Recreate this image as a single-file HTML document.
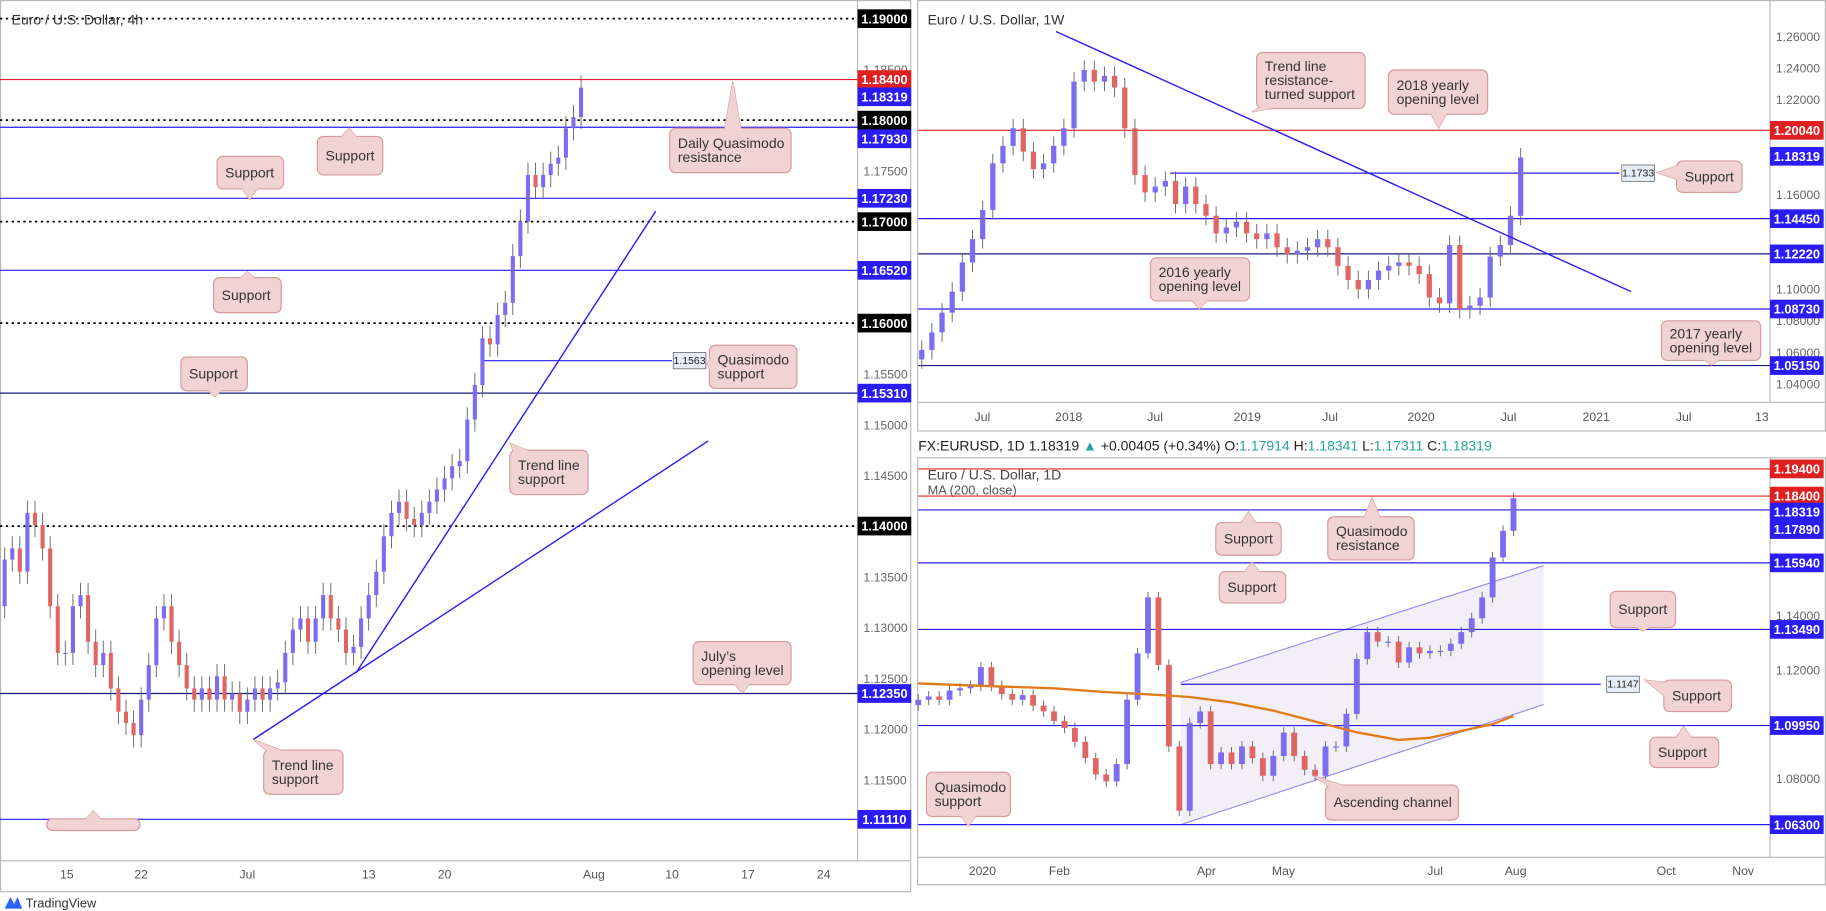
<!DOCTYPE html>
<html><head><meta charset="utf-8"><style>
html,body{margin:0;padding:0;background:#fff;overflow:hidden}
svg{display:block;font-family:"Liberation Sans",sans-serif}
</style></head><body>
<svg id="s" width="1826" height="911" viewBox="0 0 1565 781" preserveAspectRatio="none" xmlns="http://www.w3.org/2000/svg">
<rect x="0" y="0" width="1565" height="781" fill="#fff"/>
<g id="frames" fill="none" stroke="#b8b8b8" stroke-width="1">
<rect x="0.5" y="0.5" width="780" height="764"/>
<line x1="735" y1="0" x2="735" y2="738"/><line x1="0" y1="738" x2="780" y2="738"/>
<rect x="786.5" y="0.5" width="778" height="369"/>
<line x1="1517" y1="0" x2="1517" y2="345"/><line x1="787" y1="345" x2="1565" y2="345"/>
<rect x="786.5" y="392.5" width="778" height="366"/>
<line x1="1517" y1="392" x2="1517" y2="735"/><line x1="787" y1="735" x2="1565" y2="735"/>
</g>
<g id="L"></g><g id="T"></g><g id="B"></g>
<text x="10" y="21" font-size="12" fill="#333">Euro / U.S. Dollar, 4h</text>
<text x="795" y="21" font-size="12" fill="#333">Euro / U.S. Dollar, 1W</text>
<text x="787" y="386" font-size="12" fill="#222">FX:EURUSD, 1D 1.18319 <tspan fill="#26a69a">▲</tspan> +0.00405 (+0.34%) O:<tspan fill="#26a69a">1.17914</tspan> H:<tspan fill="#26a69a">1.18341</tspan> L:<tspan fill="#26a69a">1.17311</tspan> C:<tspan fill="#26a69a">1.18319</tspan></text>
<text x="795" y="411" font-size="12" fill="#444">Euro / U.S. Dollar, 1D</text>
<text x="795" y="424" font-size="11" fill="#555">MA (200, close)</text>
<g><path d="M4 779 L9 769 L12 775 L15 769 L19 779 Z" fill="#2962ff"/><text x="22" y="778" font-size="11" fill="#333">TradingView</text></g>
</svg>
<script>
// ===== Left 4h data =====
const leftCloses=[1.1298,1.1321,1.1367,1.1378,1.1355,1.1413,1.1401,1.1378,1.1321,1.1275,1.1275,1.1321,1.1332,1.1286,1.1263,1.1275,1.1240,1.1217,1.1206,1.1194,1.1229,1.1263,1.1309,1.1321,1.1286,1.1263,1.1240,1.1229,1.1240,1.1229,1.1252,1.1229,1.1235,1.1217,1.1229,1.1240,1.1229,1.1240,1.1246,1.1275,1.1298,1.1309,1.1286,1.1309,1.1332,1.1309,1.1298,1.1275,1.1281,1.1309,1.1332,1.1355,1.1390,1.1413,1.1424,1.1407,1.1401,1.1413,1.1424,1.1436,1.1447,1.1459,1.1464,1.1505,1.1539,1.1585,1.1579,1.1608,1.1620,1.1666,1.1700,1.1746,1.1734,1.1746,1.1757,1.1763,1.1792,1.1803,1.1832];
const leftTicks=["1.18500","1.17500","1.15500","1.15000","1.14500","1.13500","1.13000","1.12500","1.12000","1.11500"];
const leftTickVals=[1.185,1.175,1.155,1.15,1.145,1.135,1.13,1.125,1.12,1.115];
const leftDates=["15","22","Jul","13","20","Aug","10","17","24"];
const leftDateIdx=[10.2,20,34,50,60,79.7,90,100,110];
// ===== Weekly data =====
const wkCloses=[1.0614,1.0725,1.0850,1.0983,1.1168,1.1315,1.1500,1.1795,1.1906,1.2017,1.1869,1.1758,1.1795,1.1906,1.2017,1.2312,1.2386,1.2312,1.2349,1.2275,1.2017,1.1721,1.1611,1.1648,1.1684,1.1537,1.1648,1.1537,1.1463,1.1352,1.1389,1.1426,1.1352,1.1315,1.1352,1.1264,1.1220,1.1242,1.1264,1.1315,1.1264,1.1146,1.1057,1.0998,1.1057,1.1116,1.1146,1.1168,1.1146,1.1094,1.0946,1.0909,1.1278,1.0872,1.0894,1.0946,1.1205,1.1278,1.1463,1.1832];
const wkTicks=["1.26000","1.24000","1.22000","1.16000","1.10000","1.08000","1.06000","1.04000"];
const wkTickVals=[1.26,1.24,1.22,1.16,1.10,1.08,1.06,1.04];
const wkDates=["Jul","2018","Jul","2019","Jul","2020","Jul","2021","Jul","13"];
const wkDateX=[842,916,990,1069,1140,1218,1293,1368,1443,1510];
// ===== Daily data =====
const dCloses=[1.1090,1.1102,1.1090,1.1124,1.1132,1.1141,1.1210,1.1141,1.1111,1.1090,1.1107,1.1068,1.1047,1.1012,1.0986,1.0935,1.0875,1.0815,1.0789,1.0853,1.1090,1.1261,1.1467,1.1218,1.0918,1.0681,1.1004,1.1047,1.0853,1.0896,1.0853,1.0918,1.0875,1.0810,1.0883,1.0969,1.0883,1.0832,1.0810,1.0918,1.0918,1.1038,1.1240,1.1339,1.1304,1.1304,1.1227,1.1283,1.1261,1.1270,1.1270,1.1296,1.1339,1.1390,1.1467,1.1614,1.1712,1.1832];
const maVals=[1.1150,1.1140,1.1132,1.1118,1.1110,1.1100,1.1080,1.1050,1.1010,1.0970,1.0942,1.0950,1.0975,1.1000,1.1030];
const maIdx=[0,7,13,18,22,26,30,34,38,42,46,49,52,55,57];
const dTicks=["1.14000","1.12000","1.08000"];
const dTickVals=[1.14,1.12,1.08];
const dDates=["2020","Feb","Apr","May","Jul","Aug","Oct","Nov"];
const dDateX=[842,908,1034,1100,1230,1299,1428,1494];

const NS="http://www.w3.org/2000/svg";
function el(par,tag,at,txt){const e=document.createElementNS(NS,tag);for(const k in at)e.setAttribute(k,at[k]);if(txt!==undefined)e.textContent=txt;par.appendChild(e);return e;}
const UP="#7b6cf2",DN="#e06666",BLUE="#2a1cf5";
const yL=p=>16+(1.19-p)*8700, xL=i=>-9+6.5*i;
const yT=p=>31+(1.26-p)*1354.5, xT=i=>790+8.7*i;
const yB=p=>402+(1.194-p)*2328, xB=i=>787+8.95*i;

function candles(g,closes,xf,yf,w,wick,name){
  for(let i=0;i<closes.length;i++){
    const o=i?closes[i-1]:closes[i]-wick, c=closes[i];
    const hi=Math.max(o,c)+wick, lo=Math.min(o,c)-wick, col=c>=o?UP:DN, x=xf(i);
    const l=el(g,'line',{x1:x,x2:x,y1:yf(hi),y2:yf(lo),stroke:'#666','stroke-width':0.8});
    
    
    const top=yf(Math.max(o,c)),h=Math.max(1,yf(Math.min(o,c))-top);
    const r=el(g,'rect',{x:x-w/2,y:top,width:w,height:h,fill:col});
    
    
  }
}
function hline(g,x1,x2,y,col,dash,name){const l=el(g,'line',{x1,x2,y1:y,y2:y,stroke:col,'stroke-width':dash?1.5:1,'stroke-dasharray':dash?'2,3':'none'});
  
  }
function badge(g,x,y,txt,bg,name){const r=el(g,'rect',{x,y:y-8,width:46,height:16,fill:bg});
  
  
  el(g,'text',{x:x+23,y:y+4,'font-size':11,fill:'#fff','text-anchor':'middle','font-weight':'bold'},txt);}
function tick(g,x,y,txt){el(g,'text',{x,y:y+4,'font-size':10.5,fill:'#666'},txt);}
function callout(g,x1,y1,x2,y2,lines,px,py,name){
  const grp=el(g,'g',{});
  
  
  const cx=Math.min(Math.max(px,x1+10),x2-10), cy=Math.min(Math.max(py,y1+8),y2-8);
  let tri;
  if(py<y1) tri=`${cx-7},${y1+1} ${px},${py} ${cx+7},${y1+1}`;
  else if(py>y2) tri=`${cx-7},${y2-1} ${px},${py} ${cx+7},${y2-1}`;
  else if(px<x1) tri=`${x1+1},${cy-6} ${px},${py} ${x1+1},${cy+6}`;
  else tri=`${x2-1},${cy-6} ${px},${py} ${x2-1},${cy+6}`;
  el(grp,'polygon',{points:tri,fill:'#f2d3d3',stroke:'#d49c9c','stroke-width':1});
  el(grp,'rect',{x:x1,y:y1,width:x2-x1,height:y2-y1,rx:5,fill:'#f2d3d3',stroke:'#d49c9c','stroke-width':1});
  el(grp,'polygon',{points:tri,fill:'#f2d3d3'});
  const n=lines.length, mid=(y1+y2)/2;
  lines.forEach((t,k)=>el(grp,'text',{x:x1+7,y:mid+4+(k-(n-1)/2)*12,'font-size':12,fill:'#333'},t));
}
function lbox(g,x,y,txt,name){const r=el(g,'rect',{x,y:y-7,width:28,height:14,fill:'#e8eef7',stroke:'#555','stroke-width':0.6});
  
  
  el(g,'text',{x:x+14,y:y+3,'font-size':9,fill:'#222','text-anchor':'middle'},txt);}

// ===== LEFT =====
const L=document.getElementById('L');
leftTickVals.forEach((v,i)=>tick(L,740,yL(v),leftTicks[i]));
leftDates.forEach((d,i)=>el(L,'text',{x:xL(leftDateIdx[i]),y:753,'font-size':10.5,fill:'#555','text-anchor':'middle'},d));
[1.19,1.18,1.17,1.16,1.14].forEach(v=>hline(L,0,735,yL(v),'#000',true,'round-number-line'));
hline(L,0,735,yL(1.184),'#e02020',false,'quasimodo-resistance-line');
hline(L,0,735,yL(1.1793),BLUE,false,'support-line-11793');
hline(L,0,735,yL(1.1723),BLUE,false,'support-line-11723');
hline(L,0,735,yL(1.1652),BLUE,false,'support-line-11652');
hline(L,0,735,yL(1.1531),'#1a1a80',false,'support-line-11531');
hline(L,0,735,yL(1.1235),'#1a1a80',false,'july-opening-line');
hline(L,0,735,yL(1.1111),BLUE,false,'support-line-11111');
hline(L,415,576,yL(1.1563),BLUE,false,'quasimodo-support-line');
lbox(L,577,yL(1.1563),'1.1563','label-11563');
candles(L,leftCloses,xL,yL,3.5,0.0012,'left');
el(L,'line',{x1:305,y1:577,x2:562,y2:181,stroke:BLUE,'stroke-width':1.2,});
el(L,'line',{x1:217,y1:634,x2:607,y2:378,stroke:BLUE,'stroke-width':1.2,});
badge(L,735,yL(1.19),'1.19000','#000','badge-11900');
badge(L,735,yL(1.184),'1.18400','#e02020','badge-11840');
badge(L,735,83,'1.18319',BLUE,'badge-last-price');
badge(L,735,103,'1.18000','#000','badge-11800');
badge(L,735,119,'1.17930',BLUE,'badge-11793');
badge(L,735,yL(1.1723),'1.17230',BLUE,'badge-11723');
badge(L,735,yL(1.17),'1.17000','#000','badge-11700');
badge(L,735,yL(1.1652),'1.16520',BLUE,'badge-11652');
badge(L,735,yL(1.16),'1.16000','#000','badge-11600');
badge(L,735,yL(1.1531),'1.15310',BLUE,'badge-11531');
badge(L,735,yL(1.14),'1.14000','#000','badge-11400');
badge(L,735,yL(1.1235),'1.12350',BLUE,'badge-11235');
badge(L,735,yL(1.1111),'1.11110',BLUE,'badge-11111');
callout(L,272,117,328,150,['Support'],299,110,'callout-support-a');
callout(L,186,134,243,162,['Support'],214,171,'callout-support-b');
callout(L,183,238,241,268,['Support'],212,233,'callout-support-c');
callout(L,155,306,212,335,['Support'],184,340,'callout-support-d');
callout(L,574,110,678,148,['Daily Quasimodo','resistance'],628,70,'callout-daily-quasimodo');
callout(L,608,296,683,333,['Quasimodo','support'],606,312,'callout-quasimodo-support');
callout(L,437,386,504,424,['Trend line','support'],437,380,'callout-trend-line-a');
callout(L,594,550,678,587,['July\u2019s','opening level'],636,594,'callout-july-opening');
callout(L,226,643,294,681,['Trend line','support'],217,634,'callout-trend-line-b');
callout(L,40,702,120,712,[''],80,695,'callout-partial');

// ===== TOP RIGHT (weekly) =====
const T=document.getElementById('T');
wkTickVals.forEach((v,i)=>tick(T,1522,yT(v),wkTicks[i]));
wkDates.forEach((d,i)=>el(T,'text',{x:wkDateX[i],y:361,'font-size':10.5,fill:'#555','text-anchor':'middle'},d));
hline(T,787,1517,yT(1.2004),'#e02020',false,'yearly-2018-line');
hline(T,787,1517,yT(1.1445),BLUE,false,'weekly-line-11445');
hline(T,787,1517,yT(1.1222),'#1a1a80',false,'weekly-line-11222');
hline(T,787,1517,yT(1.0873),BLUE,false,'yearly-2016-line');
hline(T,787,1517,yT(1.0515),'#1a1a80',false,'yearly-2017-line');
hline(T,1003,1388,yT(1.1733),BLUE,false,'weekly-support-11733');
lbox(T,1390,yT(1.1733),'1.1733','label-11733');
candles(T,wkCloses,xT,yT,4.5,0.006,'weekly');
el(T,'line',{x1:905,y1:27,x2:1398,y2:250,stroke:BLUE,'stroke-width':1.2,});
badge(T,1517,yT(1.2004),'1.20040','#e02020','badge-12004');
badge(T,1517,134,'1.18319',BLUE,'badge-weekly-last');
badge(T,1517,yT(1.1445),'1.14450',BLUE,'badge-11445');
badge(T,1517,yT(1.1222),'1.12220',BLUE,'badge-11222');
badge(T,1517,yT(1.0873),'1.08730',BLUE,'badge-10873');
badge(T,1517,yT(1.0515),'1.05150',BLUE,'badge-10515');
callout(T,1077,45,1170,93,['Trend line','resistance-','turned support'],1073,96,'callout-trend-resistance');
callout(T,1190,60,1275,98,['2018 yearly','opening level'],1233,110,'callout-2018-yearly');
callout(T,1437,138,1493,165,['Support'],1420,148,'callout-weekly-support');
callout(T,986,221,1071,258,['2016 yearly','opening level'],1028,265,'callout-2016-yearly');
callout(T,1424,275,1509,309,['2017 yearly','opening level'],1467,313,'callout-2017-yearly');

// ===== BOTTOM RIGHT (daily) =====
const B=document.getElementById('B');
const ch=el(B,'polygon',{points:'1012,585 1323,485 1323,604 1012,707',fill:'#f3eff7'});


el(B,'line',{x1:1012,y1:585,x2:1323,y2:485,stroke:'#9a8cf0','stroke-width':1,});
el(B,'line',{x1:1012,y1:707,x2:1323,y2:604,stroke:'#9a8cf0','stroke-width':1,});
dTickVals.forEach((v,i)=>tick(B,1522,yB(v),dTicks[i]));
dDates.forEach((d,i)=>el(B,'text',{x:dDateX[i],y:750,'font-size':10.5,fill:'#555','text-anchor':'middle'},d));
hline(B,787,1517,yB(1.194),'#e02020',false,'daily-line-11940');
hline(B,787,1517,yB(1.184),'#e02020',false,'daily-quasimodo-resistance');
hline(B,787,1517,yB(1.1789),BLUE,false,'daily-support-11789');
hline(B,787,1517,yB(1.1594),BLUE,false,'daily-support-11594');
hline(B,787,1517,yB(1.1349),BLUE,false,'daily-support-11349');
hline(B,787,1517,yB(1.0995),BLUE,false,'daily-support-10995');
hline(B,787,1517,yB(1.063),BLUE,false,'daily-quasimodo-support');
hline(B,1012,1372,yB(1.1147),BLUE,false,'daily-support-11147');
lbox(B,1377,yB(1.1147),'1.1147','label-11147');
candles(B,dCloses,xB,yB,5,0.002,'daily');
const pts=maVals.map((v,i)=>xB(maIdx[i])+','+yB(v)).join(' ');
const ma=el(B,'polyline',{points:pts,fill:'none',stroke:'#e07b1a','stroke-width':2});


badge(B,1517,yB(1.194),'1.19400','#e02020','badge-11940');
badge(B,1517,yB(1.184),'1.18400','#e02020','badge-daily-11840');
badge(B,1517,439,'1.18319',BLUE,'badge-daily-last');
badge(B,1517,454,'1.17890',BLUE,'badge-11789');
badge(B,1517,yB(1.1594),'1.15940',BLUE,'badge-11594');
badge(B,1517,yB(1.1349),'1.13490',BLUE,'badge-11349');
badge(B,1517,yB(1.0995),'1.09950',BLUE,'badge-10995');
badge(B,1517,yB(1.063),'1.06300',BLUE,'badge-10630');
callout(B,1042,448,1098,476,['Support'],1070,439,'callout-daily-support-a');
callout(B,1138,443,1212,480,['Quasimodo','resistance'],1176,427,'callout-daily-qm-resistance');
callout(B,1045,490,1102,517,['Support'],1073,482,'callout-daily-support-b');
callout(B,1380,507,1436,538,['Support'],1408,541,'callout-daily-support-c');
callout(B,1426,583,1484,610,['Support'],1410,583,'callout-daily-support-d');
callout(B,1414,632,1473,658,['Support'],1443,623,'callout-daily-support-e');
callout(B,794,662,866,700,['Quasimodo','support'],830,708,'callout-daily-qm-support');
callout(B,1136,673,1250,703,['Ascending channel'],1125,665,'callout-ascending-channel');
</script>
</body></html>
